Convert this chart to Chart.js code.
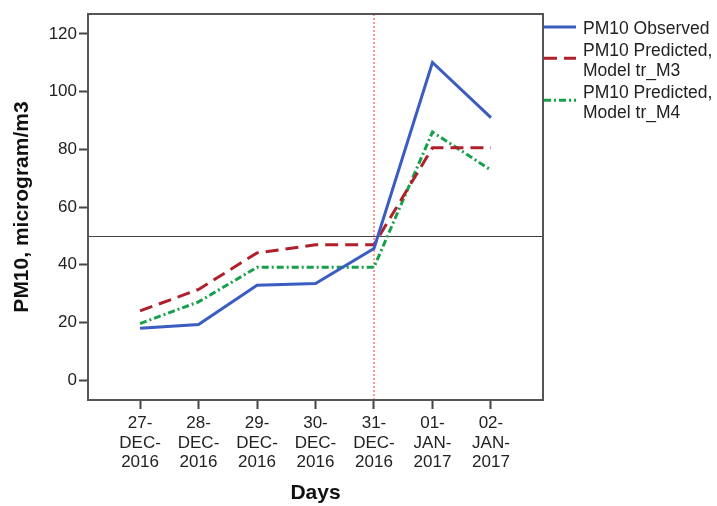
<!DOCTYPE html>
<html>
<head>
<meta charset="utf-8">
<script src="https://cdn.jsdelivr.net/npm/chart.js@4"></script>
<style>
  body { margin: 0; background: #fff; }
  #wrap { width: 717px; height: 506px; }
</style>
</head>
<body>
<div id="wrap"><canvas id="chart" width="717" height="506"></canvas></div>
<script>
const days = [
  ["27-", "DEC-", "2016"],
  ["28-", "DEC-", "2016"],
  ["29-", "DEC-", "2016"],
  ["30-", "DEC-", "2016"],
  ["31-", "DEC-", "2016"],
  ["01-", "JAN-", "2017"],
  ["02-", "JAN-", "2017"]
];
const observed = [18.0, 19.3, 32.9, 33.5, 45.6, 110.1, 91.0];
const predictedM3 = [24.0, 31.4, 44.1, 46.9, 46.9, 80.5, 80.5];
const predictedM4 = [19.6, 27.1, 39.1, 39.1, 39.1, 86.0, 72.8];
const yTicks = [0, 20, 40, 60, 80, 100, 120];
const legendLabels = [
  ["PM10 Observed"],
  ["PM10 Predicted,", "Model tr_M3"],
  ["PM10 Predicted,", "Model tr_M4"]
];
const refY = 50;     // horizontal reference line
const refX = 4;      // vertical reference at 31-DEC-2016

Chart.defaults.font.family = "'Liberation Sans', Arial, sans-serif";
Chart.defaults.color = "#222";

const toPoints = arr => arr.map((v, i) => ({ x: i, y: v }));

// frame round the plot + the two reference lines
const framePlugin = {
  id: "frame",
  beforeDatasetsDraw (chart) {
    const { ctx, chartArea: a, scales } = chart;
    ctx.save();
    const y = Math.round(scales.y.getPixelForValue(refY)) + 0.5;
    ctx.strokeStyle = "#444";
    ctx.lineWidth = 1;
    ctx.beginPath();
    ctx.moveTo(a.left, y);
    ctx.lineTo(a.right, y);
    ctx.stroke();
    const x = Math.round(scales.x.getPixelForValue(refX));
    ctx.strokeStyle = "#ff8c8c";
    ctx.lineWidth = 1.8;
    ctx.setLineDash([2, 2]);
    ctx.beginPath();
    ctx.moveTo(x, a.top);
    ctx.lineTo(x, a.bottom);
    ctx.stroke();
    ctx.restore();
  },
  afterDraw (chart) {
    const { ctx, chartArea: a } = chart;
    ctx.save();
    ctx.strokeStyle = "#555";
    ctx.lineWidth = 2;
    ctx.strokeRect(a.left, a.top, a.right - a.left, a.bottom - a.top);

    // legend, drawn to the right of the plot
    let ty = 29;
    const lh = 19.5;
    ctx.font = "17.5px 'Liberation Sans', Arial, sans-serif";
    ctx.textBaseline = "middle";
    ctx.textAlign = "left";
    chart.data.datasets.forEach((ds, i) => {
      const lines = legendLabels[i];
      const mid = ty + (lines.length - 1) * lh / 2 - (lines.length > 1 ? 3 : 2);
      ctx.strokeStyle = ds.borderColor;
      ctx.lineWidth = ds.borderWidth;
      ctx.setLineDash(ds.borderDash || []);
      ctx.beginPath();
      ctx.moveTo(a.right + 1, mid);
      ctx.lineTo(a.right + 33, mid);
      ctx.stroke();
      ctx.fillStyle = "#222";
      lines.forEach((t, j) => ctx.fillText(t, a.right + 40, ty + j * lh));
      ty += lines.length * lh + 3;
    });
    ctx.restore();
  }
};

new Chart(document.getElementById("chart"), {
  type: "line",
  data: {
    datasets: [
      {
        label: "PM10 Observed",
        data: toPoints(observed),
        borderColor: "#3b5cc0",
        borderWidth: 3,
        pointRadius: 0,
        tension: 0
      },
      {
        label: "PM10 Predicted, Model tr_M3",
        data: toPoints(predictedM3),
        borderColor: "#b0202a",
        borderWidth: 3,
        borderDash: [13, 7],
        pointRadius: 0,
        tension: 0
      },
      {
        label: "PM10 Predicted, Model tr_M4",
        data: toPoints(predictedM4),
        borderColor: "#17a04a",
        borderWidth: 3,
        borderDash: [7, 3, 2, 3],
        pointRadius: 0,
        tension: 0
      }
    ]
  },
  options: {
    responsive: false,
    animation: false,
    layout: { padding: { left: 0, right: 174, top: 14, bottom: 0 } },
    plugins: {
      legend: { display: false },
      tooltip: { enabled: false }
    },
    scales: {
      x: {
        type: "linear",
        min: -0.89,
        max: 6.89,
        afterBuildTicks: s => { s.ticks = days.map((d, i) => ({ value: i })); },
        afterFit: s => { s.height = 106; },
        grid: { drawOnChartArea: false, drawTicks: true, tickLength: 9, tickColor: "#444", tickWidth: 2 },
        border: { display: false },
        ticks: {
          autoSkip: false,
          maxRotation: 0,
          padding: 5,
          color: "#222",
          font: { size: 17, lineHeight: 1.13 },
          callback: v => days[v]
        },
        title: {
          display: true,
          text: "Days",
          color: "#111",
          font: { size: 21, weight: "bold" },
          padding: { top: -2, bottom: 0 }
        }
      },
      y: {
        min: -6.9,
        max: 126.9,
        afterBuildTicks: s => { s.ticks = yTicks.map(v => ({ value: v })); },
        afterFit: s => { s.width = 88; },
        grid: { drawOnChartArea: false, drawTicks: true, tickLength: 9, tickColor: "#444", tickWidth: 2 },
        border: { display: false },
        ticks: {
          padding: 2,
          color: "#222",
          font: { size: 17 },
          callback: v => String(v)
        },
        title: {
          display: true,
          text: "PM10, microgram/m3",
          color: "#111",
          font: { size: 21, weight: "bold" },
          padding: { top: 10, bottom: 0 }
        }
      }
    }
  },
  plugins: [framePlugin]
});
</script>
</body>
</html>
